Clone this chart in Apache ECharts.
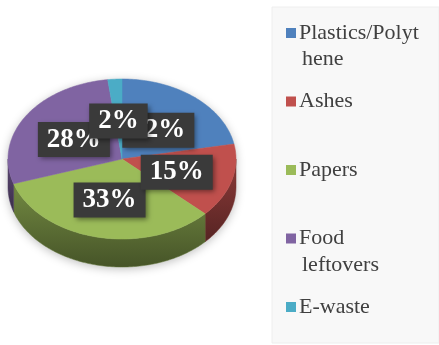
<!DOCTYPE html>
<html>
<head>
<meta charset="utf-8">
<script src="https://cdn.jsdelivr.net/npm/echarts@6/dist/echarts.min.js"></script>
<style>
html,body{margin:0;padding:0;background:#fff;}
#chart{width:439px;height:345px;}
</style>
</head>
<body>
<div id="chart"></div>
<script>
// ---- data ----
const categories = ['Plastics/Polythene', 'Ashes', 'Papers', 'Food leftovers', 'E-waste'];
const values = [22, 15, 33, 28, 2];
const labelTexts = ['22%', '15%', '33%', '28%', '2%'];
const legendFirstLines = ['Plastics/Polyt', 'Ashes', 'Papers', 'Food', 'E-waste'];
const legendSecondLines = ['hene', '', '', 'leftovers', ''];
const colors = ['#4F81BD', '#C0504D', '#9BBB59', '#8064A2', '#4BACC6'];

// ---- layout ----
const CX = 122, CY = 159, RX = 114, RY = 80, DEPTH = 28;
const labelZ = [20, 22, 21, 20, 25];
const total = values.reduce((a, b) => a + b, 0);
const SERIF = 'Liberation Serif, Times New Roman, serif';

function shade(hex, f) {
  const n = parseInt(hex.slice(1), 16);
  const r = Math.round(((n >> 16) & 255) * f);
  const g = Math.round(((n >> 8) & 255) * f);
  const b = Math.round((n & 255) * f);
  return 'rgb(' + r + ',' + g + ',' + b + ')';
}
function pt(t, dy) { return [CX + RX * Math.cos(t), CY + RY * Math.sin(t) + (dy || 0)]; }
function arc(a, b, dy) {
  const pts = [];
  const n = Math.max(2, Math.ceil(Math.abs(b - a) / (Math.PI / 180)));
  for (let k = 0; k <= n; k++) pts.push(pt(a + (b - a) * k / n, dy));
  return pts;
}

function renderItem(params, api) {
  const i = params.seriesIndex;
  const v = api.value(0);
  const start = api.value(1);
  const a = -Math.PI / 2 + start / total * 2 * Math.PI;
  const b = a + v / total * 2 * Math.PI;
  const children = [];
  const s = Math.max(a, 0), e = Math.min(b, Math.PI);
  if (e > s) {
    const top = arc(s, e, 0);
    const bot = arc(e, s, DEPTH);
    children.push({
      type: 'polygon', z2: 1,
      shape: { points: top.concat(bot) },
      style: {
        fill: new echarts.graphic.LinearGradient(0, 0, 0, 1, [
          { offset: 0, color: shade(colors[i], 0.74) },
          { offset: 1, color: shade(colors[i], 0.45) }
        ]),
        stroke: shade(colors[i], 0.6), lineWidth: 0.5
      }
    });
  }
  children.push({
    type: 'polygon', z2: 10,
    shape: { points: [[CX, CY]].concat(arc(a, b, 0)) },
    style: { fill: colors[i], stroke: colors[i], lineWidth: 0.5 }
  });
  const m = (a + b) / 2;
  children.push({
    type: 'text', z2: labelZ[i],
    style: {
      text: labelTexts[i],
      x: CX + RX * 0.5 * Math.cos(m),
      y: CY + RY * 0.5 * Math.sin(m) + 2,
      align: 'center', verticalAlign: 'middle',
      fill: '#ffffff',
      fontFamily: SERIF, fontWeight: 'bold', fontSize: 27,
      backgroundColor: '#3a3a3a',
      padding: [5, 9, 3, 9],
      shadowBlur: 5, shadowColor: 'rgba(0,0,0,0.45)', shadowOffsetX: 2, shadowOffsetY: 2
    }
  });
  return { type: 'group', children: children };
}

let cum = 0;
const series = categories.map(function (name, i) {
  const d = [[values[i], cum]];
  cum += values[i];
  return {
    type: 'custom', name: name,
    coordinateSystem: 'none',
    renderItem: renderItem,
    itemStyle: { color: colors[i] },
    data: d,
    silent: true
  };
});

const shadowPts = arc(0, Math.PI, DEPTH).concat(arc(Math.PI, 2 * Math.PI, 0));

const chart = echarts.init(document.getElementById('chart'), null, { renderer: 'canvas' });
chart.setOption({
  animation: false,
  backgroundColor: '#ffffff',
  graphic: [
    { type: 'rect', z: -10, shape: { x: 272, y: 7, width: 167, height: 336 },
      style: { fill: '#f8f8f8', stroke: '#eeeeee', lineWidth: 1 } },
    { type: 'polygon', z: 0, shape: { points: shadowPts },
      style: { fill: '#e4e4e4', shadowBlur: 10, shadowColor: 'rgba(0,0,0,0.25)', shadowOffsetY: 2 } },
    { type: 'text', z: 10, style: { text: legendSecondLines[0], x: 302, y: 59, verticalAlign: 'middle',
      fill: '#404040', fontFamily: SERIF, fontSize: 22 } },
    { type: 'text', z: 10, style: { text: legendSecondLines[3], x: 302, y: 265, verticalAlign: 'middle',
      fill: '#404040', fontFamily: SERIF, fontSize: 22 } }
  ],
  legend: {
    orient: 'vertical',
    left: 286, top: 22,
    padding: 0,
    itemWidth: 10, itemHeight: 10,
    itemGap: 46.5,
    icon: 'rect',
    selectedMode: false,
    data: categories,
    formatter: function (name) { return legendFirstLines[categories.indexOf(name)]; },
    textStyle: { fontFamily: SERIF, fontSize: 22, lineHeight: 22, color: '#404040', padding: [0, 0, 0, -2] }
  },
  series: series
});
</script>
</body>
</html>
